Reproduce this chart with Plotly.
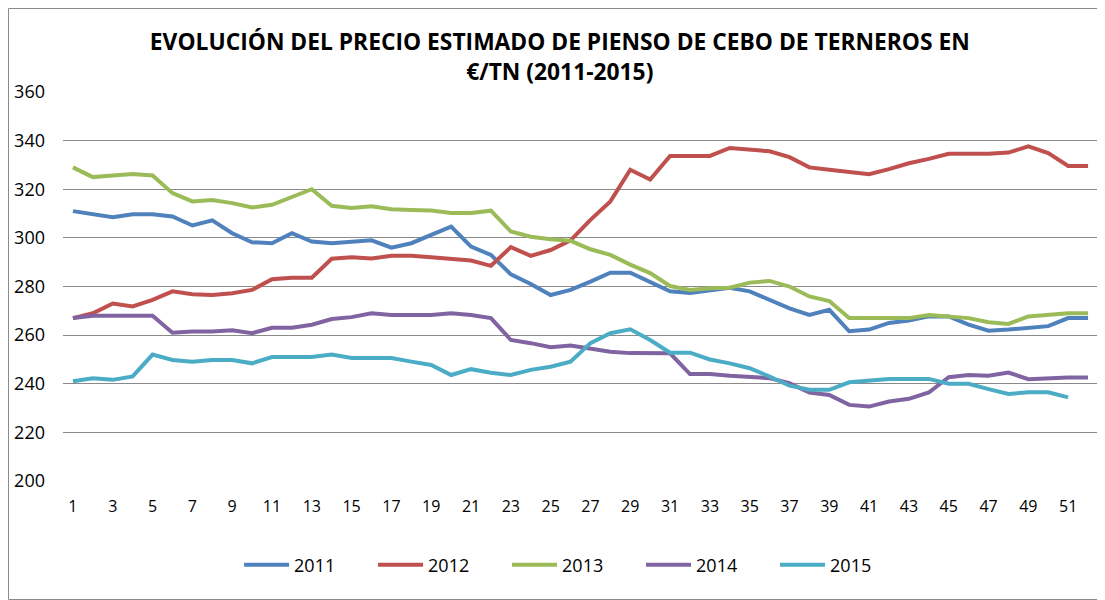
import plotly.graph_objects as go

weeks = list(range(1, 53))
years = ["2011", "2012", "2013", "2014", "2015"]

v2011 = [311, 309.7, 308.5, 309.7, 309.7, 308.8, 305.1, 307.2, 301.9, 298.2,
         297.8, 301.9, 298.5, 297.8, 298.5, 299, 296, 297.8, 301.2, 304.6,
         296.4, 293, 285, 281, 276.5, 278.6, 282, 285.7, 285.7, 282,
         278, 277.3, 278.6, 279.5, 278, 274.5, 271, 268.3, 270.4, 261.6,
         262.3, 265, 266, 267.7, 267.7, 264.3, 261.8, 262.3, 263, 263.7, 267, 267]
v2012 = [267, 269, 273, 271.8, 274.5, 278, 276.8, 276.5, 277.2, 278.6,
         283, 283.6, 283.6, 291.4, 292, 291.5, 292.6, 292.6, 292, 291.2,
         290.7, 288.5, 296.2, 292.6, 295, 299, 307.4, 315, 328, 324,
         333.7, 333.7, 333.7, 337, 336.5, 335.6, 333.2, 329, 328, 327,
         326.2, 328.3, 330.7, 332.5, 334.6, 334.6, 334.6, 335.1, 337.6, 334.9, 329.6, 329.6]
v2013 = [329, 325, 325.7, 326.3, 325.7, 318.4, 315, 315.6, 314.3, 312.5,
         313.6, 316.8, 320, 313.2, 312.3, 313, 311.8, 311.5, 311.3, 310.2,
         310.2, 311.2, 302.6, 300.5, 299.4, 298.8, 295.3, 293, 289, 285.5,
         280.2, 278.6, 279.3, 279.5, 281.6, 282.3, 280, 275.9, 274, 267,
         267, 267, 267, 268.3, 267.7, 267, 265.3, 264.6, 267.7, 268.3, 269, 269]
v2014 = [267, 268, 268, 268, 268, 261, 261.5, 261.5, 262, 260.8,
         263, 263, 264.3, 266.6, 267.4, 269, 268.3, 268.3, 268.3, 269,
         268.3, 267, 258, 256.7, 255, 255.7, 254.6, 253.2, 252.6, 252.6,
         252.5, 244, 244, 243.3, 242.7, 242.3, 240.2, 236.4, 235.4, 231.3,
         230.6, 232.7, 233.8, 236.4, 242.7, 243.6, 243.3, 244.6, 241.9, 242.3, 242.6, 242.6]
v2015 = [241, 242.3, 241.6, 243, 252, 249.8, 249.1, 249.8, 249.8, 248.4,
         251, 251, 251, 252, 250.6, 250.6, 250.6, 249.1, 247.7, 243.6,
         246, 244.5, 243.6, 245.7, 247, 249.1, 256.7, 260.8, 262.4, 258,
         252.8, 252.8, 250, 248.4, 246.4, 243, 239.2, 237.5, 237.5, 240.6,
         241.3, 242, 242, 242, 240, 240, 237.8, 235.8, 236.5, 236.5, 234.4]

series = [v2011, v2012, v2013, v2014, v2015]
colors = ["#4F81BD", "#C0504D", "#9BBB59", "#8064A2", "#4BACC6"]

y_ticks = [200, 220, 240, 260, 280, 300, 320, 340, 360]
x_ticks = list(range(1, 52, 2))

title_text = "EVOLUCIÓN DEL PRECIO ESTIMADO DE PIENSO DE CEBO DE TERNEROS EN<br>€/TN (2011-2015)"

W, H = 1097, 592  # page body adds an 8px offset inside the 1105x600 window

fig = go.Figure()
for name, vals, col in zip(years, series, colors):
    fig.add_trace(go.Scatter(
        x=weeks[:len(vals)], y=vals, name=name, mode="lines",
        line=dict(color=col, width=4),
    ))

font_main = "Open Sans, Liberation Sans, sans-serif"

fig.update_layout(
    width=W, height=H,
    margin=dict(l=55, r=7, t=84, b=119, autoexpand=False),
    paper_bgcolor="white", plot_bgcolor="white",
    font=dict(family=font_main, color="#000000"),
    title=dict(text=title_text, x=0.503, xanchor="center", xref="container",
               y=1 - 42 / H, yanchor="top", yref="container",
               font=dict(family=font_main, size=22.8, color="#000000", weight="bold")),
    xaxis=dict(range=[0.5, 52.5], tickmode="array", tickvals=x_ticks,
               ticktext=[str(t) for t in x_ticks], showgrid=False, zeroline=False,
               showline=False, ticks="", ticklabelstandoff=14, automargin=False,
               tickfont=dict(size=16, color="#000000")),
    yaxis=dict(range=[200, 360], tickmode="array", tickvals=y_ticks,
               showgrid=True, gridcolor="#8a8a8a", gridwidth=1, zeroline=False,
               showline=False, ticks="", ticklabelstandoff=17, automargin=False,
               tickfont=dict(size=18, color="#000000")),
    legend=dict(orientation="h", x=0.516, xanchor="center", xref="container",
                y=1 - 557 / H, yanchor="middle", yref="container",
                font=dict(size=18, color="#000000"), entrywidth=74,
                entrywidthmode="pixels", itemwidth=45, bgcolor="rgba(0,0,0,0)"),
    showlegend=True,
)

plot_w = W - 55 - 7
plot_h = H - 84 - 119
fig.add_shape(type="rect", xref="paper", yref="paper",
              x0=(0.5 - 55) / plot_w, x1=(W - 0.5 - 55) / plot_w,
              y0=-(119 - 0.5) / plot_h, y1=(plot_h + 84 - 0.5) / plot_h,
              line=dict(color="#8a8a8a", width=1), fillcolor="rgba(0,0,0,0)", layer="below")

fig.write_html("out.html")
